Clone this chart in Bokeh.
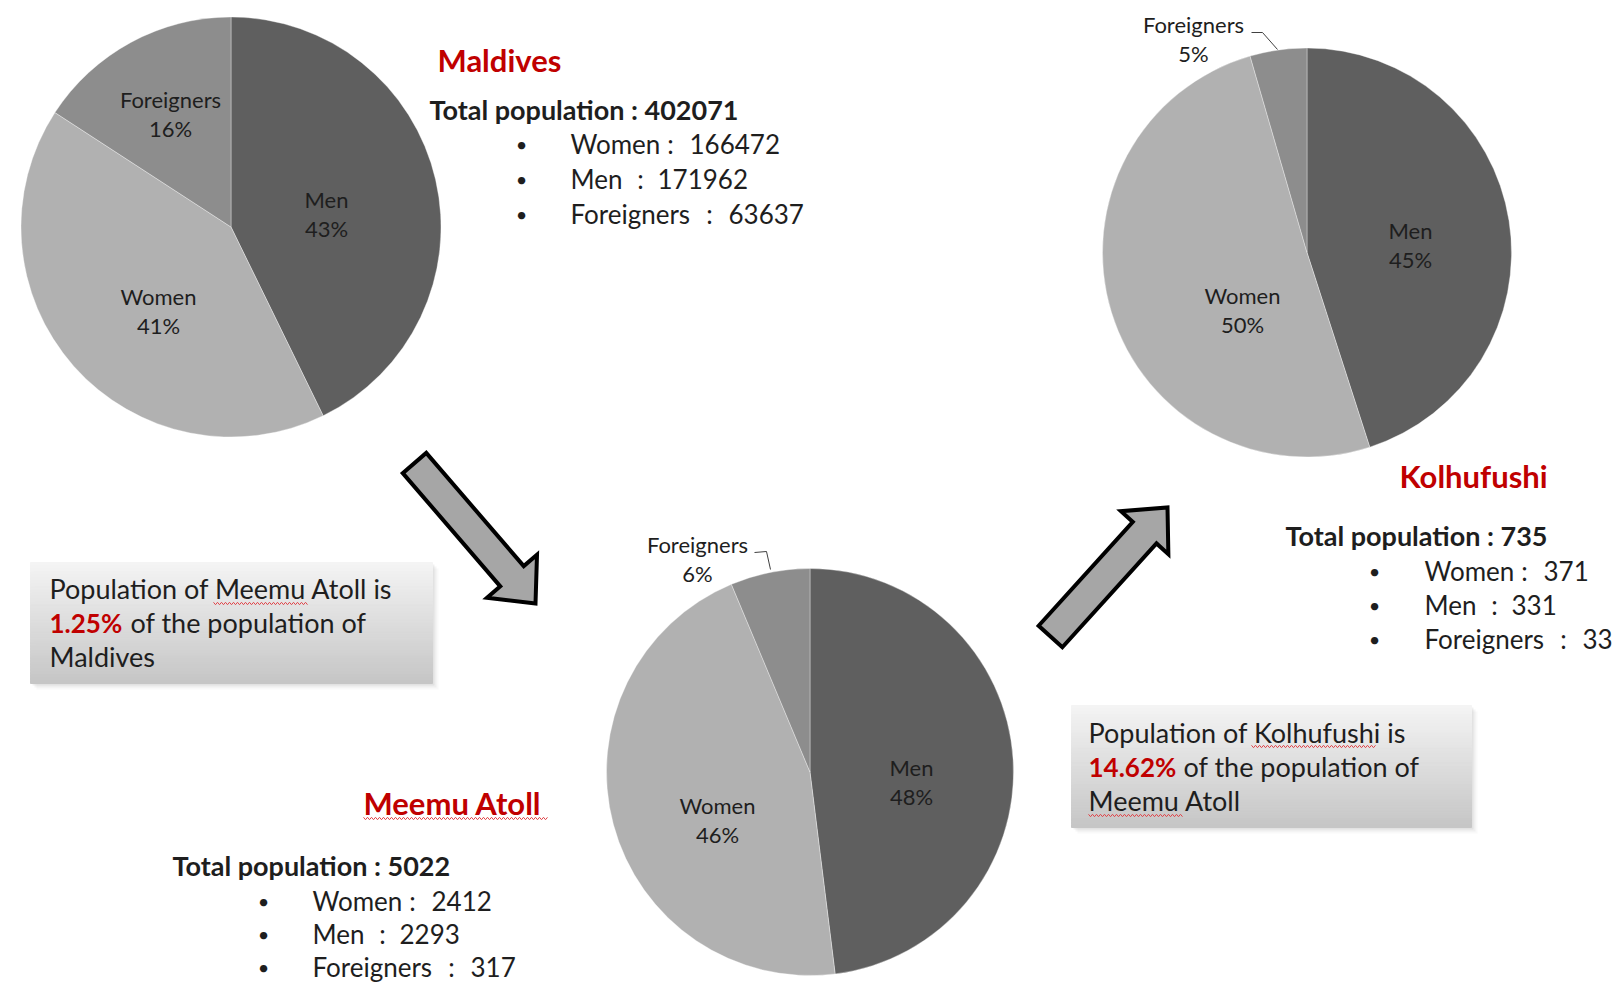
import numpy as np
from bokeh.plotting import figure
from bokeh.models import Range1d, ColumnDataSource
from bokeh.core.properties import value
from bokeh.embed import file_html
from bokeh.resources import INLINE

# ---------------- data ----------------
slice_names = ["Men", "Women", "Foreigners"]
slice_colors = ["#5f5f5f", "#b1b1b1", "#8d8d8d"]

maldives_pie = [171962, 166472, 63637]        # Men, Women, Foreigners
maldives_pct = ["43%", "41%", "16%"]
meemu_pie = [2412, 2293, 317]                 # as drawn: Men 48%, Women 46%, Foreigners 6%
meemu_pct = ["48%", "46%", "6%"]
kolhufushi_pie = [331, 371, 33]               # Men, Women, Foreigners
kolhufushi_pct = ["45%", "50%", "5%"]

list_names = ["Women", "Men", "Foreigners"]
maldives_list = [166472, 171962, 63637]
meemu_list = [2412, 2293, 317]
kolhufushi_list = [371, 331, 33]

maldives_total = 402071
meemu_total = 5022
kolhufushi_total = 735

meemu_share_of_maldives = "1.25%"
kolhufushi_share_of_meemu = "14.62%"

# ---------------- figure ----------------
W, H = 1614, 982
FONT = value("Lato")
RED = "#c00000"
TXT = "#1e1e1e"

p = figure(width=W, height=H, x_range=Range1d(0, W), y_range=Range1d(0, H),
           output_backend="svg", toolbar_location=None, min_border=0,
           x_axis_location=None, y_axis_location=None)
p.grid.visible = False
p.outline_line_color = None
p.background_fill_color = "white"
p.border_fill_color = "white"


def Y(y):
    return H - y


def txt(x, y, s, size, bold=False, color=TXT, align="left"):
    p.text(x=[x], y=[Y(y)], text=[s], text_font=FONT, text_font_size=value(f"{size}px"),
           text_font_style="bold" if bold else "normal", text_color=color,
           text_align=align, text_baseline="middle")


def pie(cx, cy, r, vals, pcts, label_pos):
    total = float(sum(vals))
    fr = np.concatenate([[0.0], np.cumsum(vals) / total])
    start = np.pi / 2 - 2 * np.pi * fr[:-1]
    end = np.pi / 2 - 2 * np.pi * fr[1:]
    src = ColumnDataSource(dict(start=start, end=end, color=slice_colors))
    p.wedge(x=cx, y=Y(cy), radius=r, start_angle="start", end_angle="end",
            direction="clock", fill_color="color", line_color="white",
            line_alpha=0.35, line_width=1, source=src)
    for name, pct, (lx, ly) in zip(slice_names, pcts, label_pos):
        txt(lx, ly, name, 22, align="center")
        txt(lx, ly + 29, pct, 22, align="center")


def arrow(tail, tip, shaft_hw, head_len, head_hw):
    t = np.array(tail, float)
    e = np.array(tip, float)
    d = e - t
    u = d / np.hypot(*d)
    n = np.array([-u[1], u[0]])
    b = e - u * head_len
    pts = [t + n * shaft_hw, b + n * shaft_hw, b + n * head_hw, e,
           b - n * head_hw, b - n * shaft_hw, t - n * shaft_hw]
    p.patch([q[0] for q in pts], [Y(q[1]) for q in pts], fill_color="#a6a6a6",
            line_color="black", line_width=4, line_join="miter")


def box(x0, x1, y0, y1):
    for k, a in [(6, 0.05), (4, 0.08), (2, 0.12)]:
        p.quad(left=x0 + k, right=x1 + k, top=Y(y0 + k), bottom=Y(y1 + k),
               fill_color="#808080", fill_alpha=a, line_color=None)
    n = 40
    edges = np.linspace(y0, y1, n + 1)
    c0 = np.array([0xf5, 0xf5, 0xf5])
    c1 = np.array([0xc6, 0xc6, 0xc6])
    cols = ["#%02x%02x%02x" % tuple((c0 + (c1 - c0) * (i + 0.5) / n).astype(int))
            for i in range(n)]
    p.quad(left=x0, right=x1, top=[Y(v) for v in edges[:-1]],
           bottom=[Y(v) for v in edges[1:]], fill_color=cols, line_color=cols)


def wavy(x0, x1, y):
    xs = np.arange(x0, x1 + 0.1, 2.0)
    ys = Y(y) + np.where(np.arange(len(xs)) % 2 == 0, 1.2, -1.2)
    p.line(xs, ys, line_color="#e0454a", line_width=1)


# offsets (colon centre, value start) relative to the item name start
ITEM_OFFSETS = {"Women": (100, 119), "Men": (70, 87), "Foreigners": (139, 158)}


def bullets(bx, tx, ys, names, vals, size=26):
    for y, nm, v in zip(ys, names, vals):
        txt(bx, y, "\u2022", 20, align="center")
        c_off, v_off = ITEM_OFFSETS[nm]
        txt(tx, y, nm, size)
        txt(tx + c_off, y, ":", size, align="center")
        txt(tx + v_off, y, str(v), size)


# ---------------- pies ----------------
pie(230.5, 226.5, 210, maldives_pie, maldives_pct, [(326, 199), (158, 296), (170, 99)])
pie(809.5, 771.5, 203.5, meemu_pie, meemu_pct, [(911, 767), (717, 805), (697, 544)])
pie(1306.5, 252, 204.5, kolhufushi_pie, kolhufushi_pct, [(1410, 230), (1242, 295), (1193, 24)])

# leader lines for small slices
p.line([754, 766, 770], [Y(552), Y(551), Y(569)], line_color="#404040", line_width=1)
p.line([1251, 1262, 1277], [Y(32), Y(32), Y(49)], line_color="#404040", line_width=1)

# ---------------- arrows ----------------
arrow((414, 462.5), (535, 603), 15.5, 36, 33)
arrow((1050, 636), (1167, 507), 16, 34, 32)

# ---------------- Maldives block ----------------
txt(437, 59, "Maldives", 31, bold=True, color=RED)
txt(429, 109, f"Total population : {maldives_total}", 27, bold=True)
bullets(521, 570, [143, 178, 213], list_names, maldives_list)

# ---------------- Meemu block ----------------
txt(363, 802, "Meemu Atoll", 31, bold=True, color=RED)
wavy(363, 547, 818)
txt(172, 865, f"Total population : {meemu_total}", 27, bold=True)
bullets(263, 312, [900, 933, 966], list_names, meemu_list)

# ---------------- Kolhufushi block ----------------
txt(1399, 475, "Kolhufushi", 31, bold=True, color=RED)
txt(1285, 535, f"Total population : {kolhufushi_total}", 27, bold=True)
bullets(1374, 1424, [570, 604, 638], list_names, kolhufushi_list)

# ---------------- text boxes ----------------
box(30, 432, 562, 683)
txt(49, 588, "Population of Meemu Atoll is", 27)
wavy(213, 307, 603)
txt(49, 622, meemu_share_of_maldives, 26, bold=True, color=RED)
txt(130, 622, "of the population of", 27)
txt(49, 656, "Maldives", 27)

box(1071, 1471, 705, 827)
txt(1088, 732, "Population of Kolhufushi is", 27)
wavy(1251, 1376, 746)
txt(1088, 766, kolhufushi_share_of_meemu, 26, bold=True, color=RED)
txt(1183, 766, "of the population of", 27)
txt(1088, 800, "Meemu Atoll", 27)
wavy(1088, 1183, 815)

open("out.html", "w").write(file_html(p, INLINE))
